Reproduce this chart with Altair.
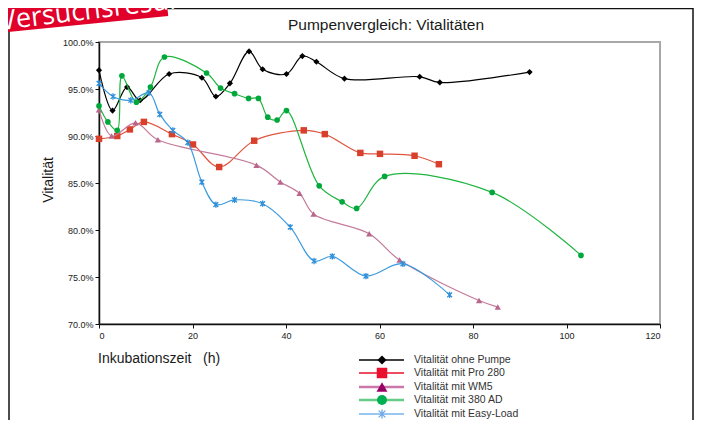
import altair as alt
import pandas as pd

# ---------------- data ----------------
names = ["Vitalität ohne Pumpe", "Vitalität mit Pro 280", "Vitalität mit WM5",
         "Vitalität mit 380 AD", "Vitalität mit Easy-Load"]

x_ohne = [0, 2.9, 6.0, 8.8, 15.0, 22.0, 25.0, 28.0, 32.1, 35.0, 40.1, 43.5, 46.5, 52.5, 68.6, 72.9, 92.1]
y_ohne = [97.0, 92.7, 95.2, 93.8, 96.6, 96.2, 94.2, 95.6, 99.0, 97.1, 96.6, 98.5, 97.9, 96.1, 96.3, 95.7, 96.8]

x_pro = [0, 3.9, 6.6, 9.6, 15.6, 20.1, 25.7, 33.2, 43.8, 48.3, 55.9, 60.1, 67.5, 72.7]
y_pro = [89.7, 90.0, 90.7, 91.5, 90.2, 89.1, 86.7, 89.5, 90.6, 90.2, 88.2, 88.1, 87.9, 87.0]

x_wm5 = [0, 2.7, 7.8, 12.6, 33.7, 38.8, 42.9, 45.9, 57.8, 64.3, 81.3, 85.3]
y_wm5 = [92.8, 90.0, 91.4, 89.6, 86.9, 85.1, 83.9, 81.7, 79.6, 76.8, 72.5, 71.8]

x_ad = [0, 1.9, 3.9, 4.9, 8.0, 11.0, 14.0, 23.0, 26.0, 29.0, 32.0, 34.1, 36.1, 38.1, 40.1,
        47.1, 52.0, 55.1, 61.1, 84.1, 103.1]
y_ad = [93.2, 91.5, 90.6, 96.4, 93.6, 95.2, 98.4, 96.7, 95.1, 94.5, 94.0, 94.0, 92.0, 91.7, 92.7,
        84.7, 83.0, 82.3, 85.7, 84.0, 77.3]

x_easy = [0, 3.0, 6.8, 10.7, 13.0, 15.8, 19.0, 22.0, 25.0, 29.0, 35.0, 40.9, 46.0, 49.9, 57.1, 65.0, 75.0]
y_easy = [95.6, 94.2, 93.8, 94.6, 92.3, 90.6, 89.3, 85.1, 82.7, 83.2, 82.8, 80.3, 76.7, 77.2, 75.1, 76.4, 73.1]

x_ticks = [0, 20, 40, 60, 80, 100, 120]
y_ticks = [0.70, 0.75, 0.80, 0.85, 0.90, 0.95, 1.00]

series_x = [x_ohne, x_pro, x_wm5, x_ad, x_easy]
series_y = [y_ohne, y_pro, y_wm5, y_ad, y_easy]

# ---------------- styles ----------------
STAR = "M-0.75,-0.75L0.75,0.75M0.75,-0.75L-0.75,0.75M0,-1L0,1"
styles = [
    dict(line="#000000", mark="#000000", shape="diamond", size=38, filled=True,
         lline="#000000", lmark="#000000", lsize=80, lw=1.5),
    dict(line="#e0553f", mark="#d9402c", shape="square", size=42, filled=True,
         lline="#e8102c", lmark="#e8102c", lsize=110, lw=1.5),
    dict(line="#c47a9a", mark="#b8668c", shape="triangle-up", size=40, filled=True,
         lline="#cc77aa", lmark="#990066", lsize=120, lw=2.5),
    dict(line="#1fb540", mark="#00a83c", shape="circle", size=32, filled=True,
         lline="#66cc88", lmark="#00b050", lsize=100, lw=2.5),
    dict(line="#3b9be0", mark="#2f8fd8", shape=STAR, size=40, filled=False,
         lline="#79b4ea", lmark="#6aa8e8", lsize=80, lw=1.5),
]

W, H = 561, 282
FONT = "Liberation Sans"

xenc = alt.X("x:Q", scale=alt.Scale(domain=[0, 120], nice=False),
             axis=alt.Axis(values=x_ticks, title=None, grid=False, labelFontSize=9,
                           labelColor="#222", domainColor="#111", domainWidth=1.5,
                           tickColor="#111", tickSize=4, labelPadding=3, labelFont=FONT))
yenc = alt.Y("y:Q", scale=alt.Scale(domain=[0.70, 1.00], nice=False),
             axis=alt.Axis(values=y_ticks, format=".1%", title=None, grid=False,
                           labelFontSize=9, labelColor="#222", domainColor="#111",
                           domainWidth=1.5, tickColor="#111", tickSize=4, labelPadding=2,
                           labelFont=FONT))

layers = []
for name, xs, ys, st in zip(names, series_x, series_y, styles):
    df = pd.DataFrame({"x": xs, "y": [v / 100 for v in ys], "series": name})
    base = alt.Chart(df).encode(x=xenc, y=yenc)
    layers.append(base.mark_line(interpolate="catmull-rom", color=st["line"], strokeWidth=1.2))
    if st["filled"]:
        pt = base.mark_point(shape=st["shape"], size=st["size"], filled=True,
                             color=st["mark"], opacity=1)
    else:
        pt = base.mark_point(shape=st["shape"], size=st["size"], filled=False,
                             color=st["mark"], strokeWidth=1.3, opacity=1)
    layers.append(pt)

dummy = pd.DataFrame({"d": [0]})

def text(t, x, y, size, color="#1a1a1a", align="left", baseline="middle", angle=0, font=FONT, weight="normal"):
    kw = dict(fontSize=size, color=color, align=align, baseline=baseline, font=font, fontWeight=weight)
    if angle:
        kw["angle"] = angle
    return alt.Chart(dummy).mark_text(**kw).encode(
        x=alt.value(x), y=alt.value(y), text=alt.value(t))

def rule(x1, y1, x2, y2, color, w):
    return alt.Chart(dummy).mark_rule(color=color, strokeWidth=w).encode(
        x=alt.value(x1), y=alt.value(y1), x2=alt.value(x2), y2=alt.value(y2))

# legend
leg_y = [318, 331, 345, 358, 372]
for name, st, ly in zip(names, styles, leg_y):
    layers.append(rule(260, ly, 305, ly, st["lline"], st["lw"]))
    if st["filled"]:
        m = alt.Chart(dummy).mark_point(shape=st["shape"], size=st["lsize"], filled=True,
                                        color=st["lmark"], opacity=1)
    else:
        m = alt.Chart(dummy).mark_point(shape=st["shape"], size=st["lsize"], filled=False,
                                        color=st["lmark"], strokeWidth=1.3, opacity=1)
    layers.append(m.encode(x=alt.value(283), y=alt.value(ly)))
    layers.append(text(name, 315, ly, 10.5, color="#333"))

# titles
layers.append(text("Pumpenvergleich: Vitalitäten", 287, -17, 15.5, align="center"))
layers.append(text("Vitalität", -50, 138, 14, align="center", angle=270))
layers.append(text("Inkubationszeit\u00a0\u00a0\u00a0(h)", -1, 317, 14))

# outer frame
layers.append(rule(-90, -33.5, 594, -33.5, "#111", 1.5))
layers.append(rule(-90, -34, -90, 400, "#111", 1.5))
layers.append(rule(594, -34, 594, 400, "#111", 1.5))

# red stamp
layers.append(rule(-111, -30, 67, -48, "#e0002a", 44))
layers.append(text("Versuchsresultate", -98, -12, 27, color="#ffffff", baseline="alphabetic",
                   angle=353, font="Open Sans"))

chart = alt.layer(*layers).properties(
    width=W, height=H,
    padding={"left": 91, "top": 34, "right": 34, "bottom": 96},
    autosize=alt.AutoSizeParams(type="none"),
).configure_view(stroke="#a8a8a8", strokeWidth=2)

chart.save("out.html", embed_options={"renderer": "svg", "actions": False})
